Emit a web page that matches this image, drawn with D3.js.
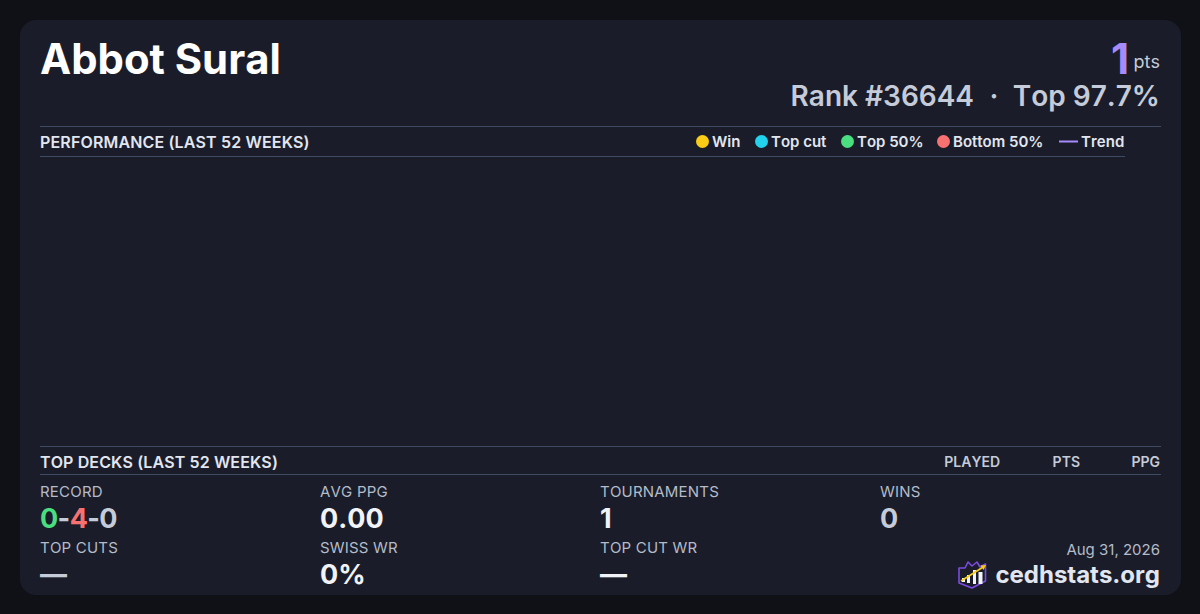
<!DOCTYPE html>
<html><head><meta charset="utf-8">
<script src="https://cdn.jsdelivr.net/npm/d3@7/dist/d3.min.js"></script>
<style>html,body{margin:0;padding:0;background:#0f1117;overflow:hidden}svg{display:block;font-family:Inter,sans-serif;font-optical-sizing:none;font-kerning:none;opacity:.999}</style>
</head><body><svg id="c" width="1200" height="614"></svg>
<script>
const legendLabels=["Win","Top cut","Top 50%","Bottom 50%"];
const legendColors=["#facc15","#22d3ee","#4ade80","#f87171"];
const legendX=[696,755,841,937];
const tableHeads=["PLAYED","PTS","PPG"];
const tableHeadX=[1000,1080,1160];
const statLabels=["RECORD","AVG PPG","TOURNAMENTS","WINS","TOP CUTS","SWISS WR","TOP CUT WR"];
const statValues=["0-4-0","0.00","1","0","—","0%","—"];
const statX=[40,320,600,880,40,320,600];
const statRow=[0,0,0,0,1,1,1];
const recordParts=["0","-","4","-","0"];
const recordColors=["#4ade80","#c5cbd8","#f87171","#c5cbd8","#c5cbd8"];
const svg=d3.select("#c");
const txt="#e2e6f0", mut="#b4bbc9", line="#3f4a63";
svg.append("rect").attr("x",20).attr("y",20).attr("width",1161).attr("height",575).attr("rx",16).attr("fill","#1a1d29");
const T=(x,y,s,size,w,fill,anchor)=>svg.append("text").attr("x",x).attr("y",y).attr("font-size",size).attr("font-weight",w).attr("fill",fill).attr("text-anchor",anchor||"start").text(s);
T(40,73.5,"Abbot Sural",41.8,700,"#ffffff");
T(1129,74,"1",42,700,"#a78bfa","end");
T(1160,68,"pts",18,400,"#c5cbd8","end");
T(1160,106,"Top 97.7%",28,600,"#c5cbd8","end");
T(994,106,"·",28,600,"#c5cbd8","middle");
T(974,106,"Rank #36644",28,600,"#c5cbd8","end");
[[1161,126.5],[1125,156.5],[1161,446.5],[1161,474.5]].forEach(d=>svg.append("line").attr("x1",40).attr("x2",d[0]).attr("y1",d[1]).attr("y2",d[1]).attr("stroke",line));
T(40,147.5,"PERFORMANCE (LAST 52 WEEKS)",16,600,txt).attr("letter-spacing",0.15);
T(40,467.5,"TOP DECKS (LAST 52 WEEKS)",16,600,txt).attr("letter-spacing",0.12);
legendLabels.forEach((l,i)=>{
  svg.append("circle").attr("cx",legendX[i]+6.5).attr("cy",141.5).attr("r",6.5).attr("fill",legendColors[i]);
  T(legendX[i]+16,147,l,15,600,txt);
});
svg.append("line").attr("x1",1059).attr("x2",1078).attr("y1",141.5).attr("y2",141.5).attr("stroke","#a78bfa").attr("stroke-width",2);
T(1081,147,"Trend",15,600,txt);
tableHeads.forEach((h,i)=>T(tableHeadX[i],467,h,14,600,"#c5cbd8","end"));
statLabels.forEach((l,i)=>{
  const r=statRow[i];
  T(statX[i],r?553:497,l,15,400,mut).attr("letter-spacing",0.2);
  if(i===0){
    const t=T(statX[i],528,"",27,700,"#c5cbd8").attr("letter-spacing",-0.6);
    t.selectAll("tspan").data(recordParts).join("tspan").attr("fill",(d,j)=>recordColors[j]).text(d=>d);
  } else {
    T(statX[i],r?584:528,statValues[i],27,700,i===3||i===4?"#c5cbd8":"#f1f3f8");
  }
});
T(1160,555,"Aug 31, 2026",15,400,mut,"end");
T(1160,583,"cedhstats.org",24,700,"#e2e6f0","end");
const g=svg.append("g").attr("transform","translate(958,560)");
g.append("path").attr("d","M1 8 L7 8 L10 2 L14 6 L19 2 L22 7 L27.5 4 L27.5 21 L14 28 L1 23 Z").attr("fill","#1a1d29").attr("stroke","#7c4be0").attr("stroke-width",1.6).attr("stroke-linejoin","round");
[[4,18,3,4],[9,15,3,8],[15,10,3,14],[20.5,12,4,12]].forEach(b=>g.append("rect").attr("x",b[0]).attr("y",b[1]).attr("width",b[2]).attr("height",b[3]).attr("fill","#f1f3f8"));
g.append("line").attr("x1",3).attr("y1",21).attr("x2",26).attr("y2",6.5).attr("stroke","#facc15").attr("stroke-width",1.6);
g.append("path").attr("d","M28 5 L22.5 5.5 L25.5 10 Z").attr("fill","#facc15");
</script></body></html>
